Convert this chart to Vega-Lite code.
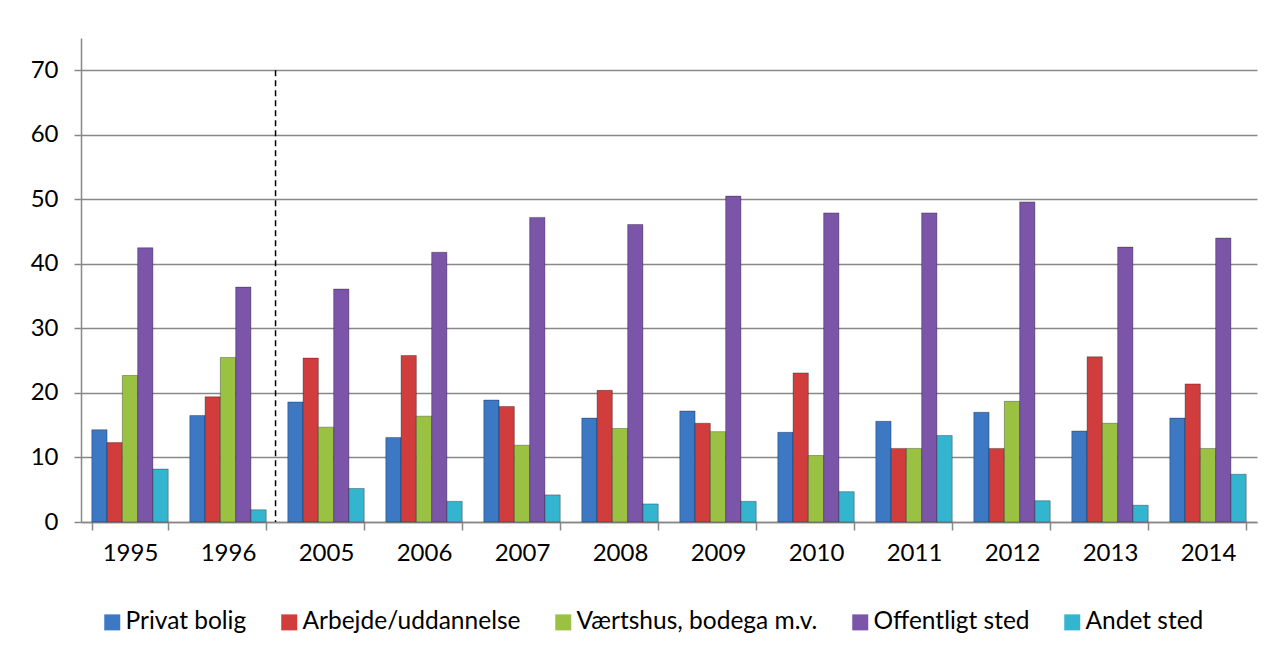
{
  "$schema": "https://vega.github.io/schema/vega-lite/v6.json",
  "width": 1176,
  "height": 484,
  "autosize": {"type": "none"},
  "padding": {"left": 81, "top": 38, "right": 25, "bottom": 133},
  "background": "white",
  "config": {
    "view": {"stroke": null},
    "font": "Lato",
    "axis": {"labelFont": "Lato", "labelFontSize": 24, "labelColor": "#000000"},
    "legend": {"labelFont": "Lato", "labelFontSize": 24.5, "labelColor": "#000000", "labelLimit": 0}
  },
  "datasets": {
    "main": [
      {"year": "1995", "cat": "Privat bolig", "v": 14.3},
      {"year": "1995", "cat": "Arbejde/uddannelse", "v": 12.3},
      {"year": "1995", "cat": "Værtshus, bodega m.v.", "v": 22.7},
      {"year": "1995", "cat": "Offentligt sted", "v": 42.5},
      {"year": "1995", "cat": "Andet sted", "v": 8.2},
      {"year": "1996", "cat": "Privat bolig", "v": 16.5},
      {"year": "1996", "cat": "Arbejde/uddannelse", "v": 19.4},
      {"year": "1996", "cat": "Værtshus, bodega m.v.", "v": 25.5},
      {"year": "1996", "cat": "Offentligt sted", "v": 36.4},
      {"year": "1996", "cat": "Andet sted", "v": 1.9},
      {"year": "2005", "cat": "Privat bolig", "v": 18.6},
      {"year": "2005", "cat": "Arbejde/uddannelse", "v": 25.4},
      {"year": "2005", "cat": "Værtshus, bodega m.v.", "v": 14.7},
      {"year": "2005", "cat": "Offentligt sted", "v": 36.1},
      {"year": "2005", "cat": "Andet sted", "v": 5.2},
      {"year": "2006", "cat": "Privat bolig", "v": 13.1},
      {"year": "2006", "cat": "Arbejde/uddannelse", "v": 25.8},
      {"year": "2006", "cat": "Værtshus, bodega m.v.", "v": 16.4},
      {"year": "2006", "cat": "Offentligt sted", "v": 41.8},
      {"year": "2006", "cat": "Andet sted", "v": 3.2},
      {"year": "2007", "cat": "Privat bolig", "v": 18.9},
      {"year": "2007", "cat": "Arbejde/uddannelse", "v": 17.9},
      {"year": "2007", "cat": "Værtshus, bodega m.v.", "v": 11.9},
      {"year": "2007", "cat": "Offentligt sted", "v": 47.2},
      {"year": "2007", "cat": "Andet sted", "v": 4.2},
      {"year": "2008", "cat": "Privat bolig", "v": 16.1},
      {"year": "2008", "cat": "Arbejde/uddannelse", "v": 20.4},
      {"year": "2008", "cat": "Værtshus, bodega m.v.", "v": 14.5},
      {"year": "2008", "cat": "Offentligt sted", "v": 46.1},
      {"year": "2008", "cat": "Andet sted", "v": 2.8},
      {"year": "2009", "cat": "Privat bolig", "v": 17.2},
      {"year": "2009", "cat": "Arbejde/uddannelse", "v": 15.3},
      {"year": "2009", "cat": "Værtshus, bodega m.v.", "v": 14.0},
      {"year": "2009", "cat": "Offentligt sted", "v": 50.5},
      {"year": "2009", "cat": "Andet sted", "v": 3.2},
      {"year": "2010", "cat": "Privat bolig", "v": 13.9},
      {"year": "2010", "cat": "Arbejde/uddannelse", "v": 23.1},
      {"year": "2010", "cat": "Værtshus, bodega m.v.", "v": 10.3},
      {"year": "2010", "cat": "Offentligt sted", "v": 47.9},
      {"year": "2010", "cat": "Andet sted", "v": 4.7},
      {"year": "2011", "cat": "Privat bolig", "v": 15.6},
      {"year": "2011", "cat": "Arbejde/uddannelse", "v": 11.4},
      {"year": "2011", "cat": "Værtshus, bodega m.v.", "v": 11.4},
      {"year": "2011", "cat": "Offentligt sted", "v": 47.9},
      {"year": "2011", "cat": "Andet sted", "v": 13.4},
      {"year": "2012", "cat": "Privat bolig", "v": 17.0},
      {"year": "2012", "cat": "Arbejde/uddannelse", "v": 11.4},
      {"year": "2012", "cat": "Værtshus, bodega m.v.", "v": 18.7},
      {"year": "2012", "cat": "Offentligt sted", "v": 49.6},
      {"year": "2012", "cat": "Andet sted", "v": 3.3},
      {"year": "2013", "cat": "Privat bolig", "v": 14.1},
      {"year": "2013", "cat": "Arbejde/uddannelse", "v": 25.6},
      {"year": "2013", "cat": "Værtshus, bodega m.v.", "v": 15.3},
      {"year": "2013", "cat": "Offentligt sted", "v": 42.6},
      {"year": "2013", "cat": "Andet sted", "v": 2.6},
      {"year": "2014", "cat": "Privat bolig", "v": 16.1},
      {"year": "2014", "cat": "Arbejde/uddannelse", "v": 21.4},
      {"year": "2014", "cat": "Værtshus, bodega m.v.", "v": 11.4},
      {"year": "2014", "cat": "Offentligt sted", "v": 44.0},
      {"year": "2014", "cat": "Andet sted", "v": 7.4}
    ],
    "divider": [{"year": "2005", "top": 70, "bottom": 0}]
  },
  "layer": [
    {
      "data": {"name": "main"},
      "mark": {"type": "bar", "stroke": "#000000", "strokeOpacity": 0.3, "strokeWidth": 1},
      "encoding": {
        "x": {
          "field": "year", "type": "nominal", "sort": null,
          "scale": {"paddingInner": 0.22, "paddingOuter": 0.11},
          "axis": {
            "title": null, "labelAngle": 0, "tickBand": "extent",
            "domainColor": "#888888", "domainWidth": 1.5,
            "tickColor": "#888888", "tickWidth": 1.5, "tickSize": 8,
            "labelPadding": 11
          }
        },
        "xOffset": {
          "field": "cat", "type": "nominal",
          "sort": ["Privat bolig", "Arbejde/uddannelse", "Værtshus, bodega m.v.", "Offentligt sted", "Andet sted"],
          "scale": {"paddingInner": 0, "paddingOuter": 0}
        },
        "y": {
          "field": "v", "type": "quantitative",
          "scale": {"domain": [0, 75], "nice": false},
          "axis": {
            "title": null, "values": [0, 10, 20, 30, 40, 50, 60, 70],
            "grid": true, "gridColor": "#888888", "gridWidth": 1.5,
            "domainColor": "#888888", "domainWidth": 1.5,
            "tickColor": "#888888", "tickWidth": 1.5, "tickSize": 7,
            "labelPadding": 16
          }
        },
        "color": {
          "field": "cat", "type": "nominal",
          "scale": {
            "domain": ["Privat bolig", "Arbejde/uddannelse", "Værtshus, bodega m.v.", "Offentligt sted", "Andet sted"],
            "range": ["#3C78C3", "#D13C3C", "#9BC143", "#7A55A8", "#33B5D0"]
          },
          "legend": {
            "title": null, "orient": "none", "direction": "horizontal",
            "legendX": 19, "legendY": 572,
            "symbolType": "square", "symbolSize": 256, "symbolStrokeWidth": 0,
            "columnPadding": 30, "labelOffset": 1
          }
        }
      }
    },
    {
      "data": {"name": "divider"},
      "mark": {"type": "rule", "color": "#000000", "strokeWidth": 1.5, "strokeDash": [6, 4]},
      "encoding": {
        "x": {"field": "year", "type": "nominal", "bandPosition": -0.16},
        "y": {"field": "top", "type": "quantitative"},
        "y2": {"field": "bottom"}
      }
    }
  ]
}
